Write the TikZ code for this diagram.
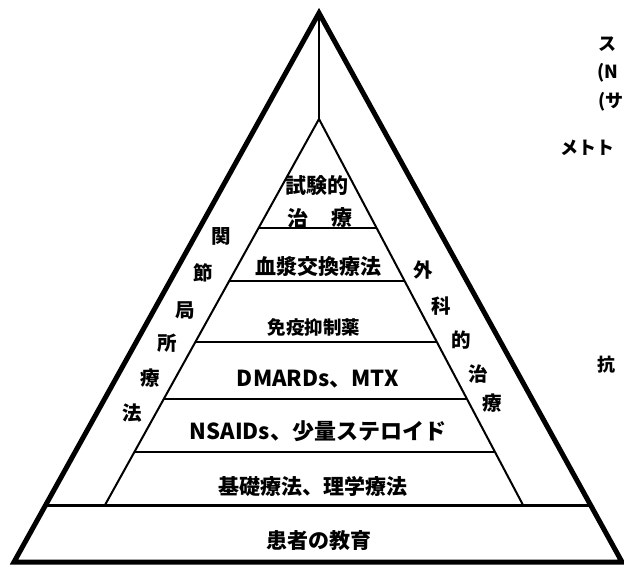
\documentclass[tikz,border=0pt]{standalone}
\usepackage{fontspec}
\setmainfont{Noto Sans CJK JP}
\usetikzlibrary{calc}
\begin{document}
\begin{tikzpicture}[x=1pt,y=-1pt,
  outerline/.style={line width=5pt,line join=miter},
  innerline/.style={line width=2pt},
  band/.style={line width=2.4pt},
  lbl/.style={font=\fontsize{21}{21}\selectfont\bfseries,inner sep=0pt},
  lblsmall/.style={font=\fontsize{18.5}{18.5}\selectfont\bfseries,inner sep=0pt},
  lat/.style={font=\fontsize{22}{22}\selectfont\bfseries,inner sep=0pt},
  side/.style={font=\fontsize{19.5}{19.5}\selectfont\bfseries,inner sep=0pt},
  note/.style={font=\fontsize{18}{18}\selectfont\bfseries,inner sep=0pt,anchor=west}]
\useasboundingbox (0,0) rectangle (624,566);
\clip (0,0) rectangle (624,566);
% geometry
\coordinate (oa) at (319,13);
\coordinate (obl) at (14,562);
\coordinate (obr) at (622,562);
\coordinate (ia) at (319,119);
\coordinate (ibl) at (105,505);
\coordinate (ibr) at (523,505);
% outer triangle
\draw[outerline] (oa) -- (obr) -- (obl) -- cycle;
% vertical stem
\draw[innerline] (oa) -- (ia);
% inner triangle
\draw[innerline,line join=miter] (ibl) -- (ia) -- (ibr);
% bands
\foreach \yy in {228,281,342,399,452}{
  \draw[band] ($(ia)!{(\yy-119)/386}!(ibl)$) -- ($(ia)!{(\yy-119)/386}!(ibr)$);
}
\draw[line width=3pt] ($(oa)!{492/549}!(obl)$) -- ($(oa)!{492/549}!(obr)$);
% band labels
\node[lbl] (t1) at (317,186) {試験的};
\node[lbl] (t2a) at (298,218) {治};
\node[lbl] (t2b) at (342,218) {療};
\node[lbl] (t3) at (318,267) {血漿交換療法};
\node[lblsmall] (t4) at (314,327) {免疫抑制薬};
\node[lat] (t5) at (318,379) {DMARDs、MTX};
\node[lat] (t6) at (318,431) {NSAIDs、少量ステロイド};
\node[lbl] (t7) at (313,486) {基礎療法、理学療法};
\node[lbl] (t8) at (319,541) {患者の教育};
% left column
\node[side] (l1) at (221,236) {関};
\node[side] (l2) at (203,273) {節};
\node[side] (l3) at (185,311) {局};
\node[side] (l4) at (167,343) {所};
\node[side] (l5) at (150,378) {療};
\node[side] (l6) at (132,413) {法};
% right column
\node[side] (r1) at (423,270) {外};
\node[side] (r2) at (441,306) {科};
\node[side] (r3) at (461,340) {的};
\node[side] (r4) at (478,374) {治};
\node[side] (r5) at (492,403) {療};
% notes at right edge
\node[note] (n1) at (598,44) {ス};
\node[note] (n2) at (597,73) {(N};
\node[note] (n3) at (598,102) {(サ};
\node[note] (n4) at (560,148) {メトト};
\node[note] (n5) at (597,365) {抗};
\end{tikzpicture}
\end{document}
